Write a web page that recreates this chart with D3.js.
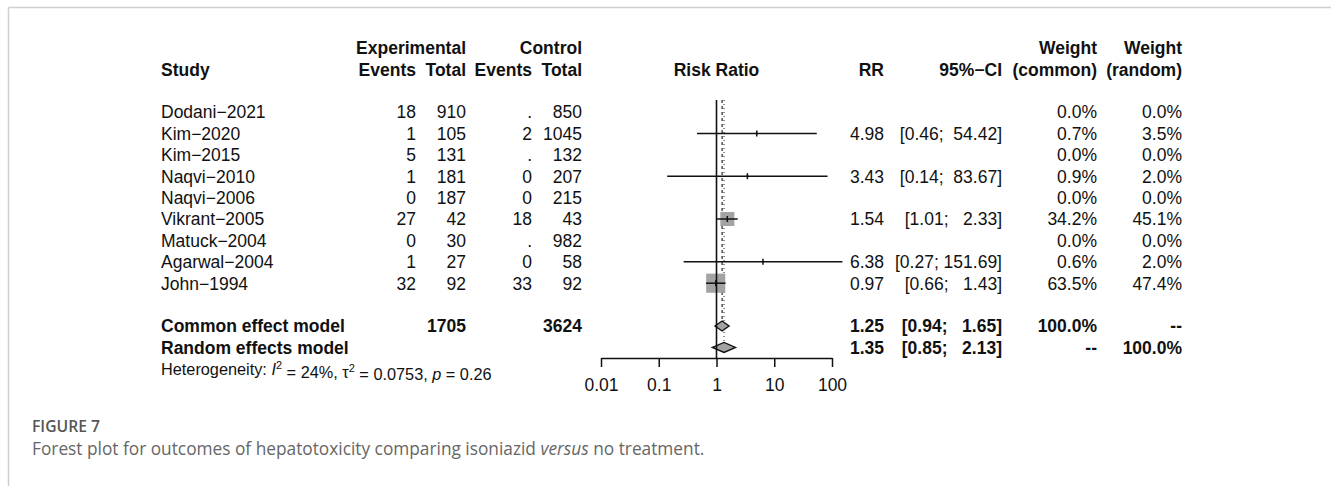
<!DOCTYPE html>
<html>
<head>
<meta charset="utf-8">
<script src="https://cdn.jsdelivr.net/npm/d3@7"></script>
<style>
  body { margin: 0; background: #fff; }
  svg text { white-space: pre; }
</style>
</head>
<body>
<div id="chart"></div>
<script>
// study table
const studies = ["Dodani\u22122021", "Kim\u22122020", "Kim\u22122015", "Naqvi\u22122010", "Naqvi\u22122006",
                 "Vikrant\u22122005", "Matuck\u22122004", "Agarwal\u22122004", "John\u22121994"];
const expEvents = ["18", "1", "5", "1", "0", "27", "0", "1", "32"];
const expTotal = ["910", "105", "131", "181", "187", "42", "30", "27", "92"];
const ctrlEvents = [".", "2", ".", "0", "0", "18", ".", "0", "33"];
const ctrlTotal = ["850", "1045", "132", "207", "215", "43", "982", "58", "92"];
const rr = [null, 4.98, null, 3.43, null, 1.54, null, 6.38, 0.97];
const lower = [null, 0.46, null, 0.14, null, 1.01, null, 0.27, 0.66];
const upper = [null, 54.42, null, 83.67, null, 2.33, null, 151.69, 1.43];
const weightCommon = [0.0, 0.7, 0.0, 0.9, 0.0, 34.2, 0.0, 0.6, 63.5];
const weightRandom = [0.0, 3.5, 0.0, 2.0, 0.0, 45.1, 0.0, 2.0, 47.4];

// pooled rows
const pooledLabels = ["Common effect model", "Random effects model"];
const pooledExpTotal = ["1705", ""];
const pooledCtrlTotal = ["3624", ""];
const pooledRR = [1.25, 1.35];
const pooledLower = [0.94, 0.85];
const pooledUpper = [1.65, 2.13];
const pooledWCommon = ["100.0%", "--"];
const pooledWRandom = ["--", "100.0%"];

const axisTicks = [0.01, 0.1, 1, 10, 100];

const W = 1331, H = 486;
const svg = d3.select("#chart").append("svg").attr("width", W).attr("height", H)
  .style("font-family", "'Liberation Sans', Arial, sans-serif");

// page frame
svg.append("line").attr("x1", 8.5).attr("x2", W).attr("y1", 7.5).attr("y2", 7.5)
  .attr("stroke", "#cfcfcf").attr("stroke-width", 1.5);
svg.append("line").attr("x1", 8.5).attr("x2", 8.5).attr("y1", 7.5).attr("y2", H)
  .attr("stroke", "#cfcfcf").attr("stroke-width", 1.5);

const FS = 17.5, FSB = 17.5;
const row = d3.scaleLinear().domain([0, 1]).range([112, 133.4]);
const x = d3.scaleLog().domain([0.01, 100]).range([601, 832]);

// column anchors
const col = {study: 161, ee: 416, et: 466, ce: 532, ct: 582, rr: 884, ci: 1002, wc: 1097, wr: 1182};

function txt(xp, yp, s, anchor, bold, size) {
  return svg.append("text").attr("x", xp).attr("y", yp).attr("dy", "0.36em")
    .attr("text-anchor", anchor || "start")
    .attr("font-size", size || (bold ? FSB : FS))
    .attr("font-weight", bold ? "bold" : "normal")
    .attr("fill", "#111").text(s);
}

const fmt = d3.format(".2f");
function ciText(lo, hi) {
  let u = fmt(hi);
  while (u.length < 6) u = " " + u;
  return "[" + fmt(lo) + "; " + u + "]";
}

// headers
const h1 = row(-3), h2 = row(-2);
txt(col.et, h1, "Experimental", "end", true);
txt(col.ct, h1, "Control", "end", true);
txt(col.wc, h1, "Weight", "end", true);
txt(col.wr, h1, "Weight", "end", true);
txt(col.study, h2, "Study", "start", true);
txt(col.ee, h2, "Events", "end", true);
txt(col.et, h2, "Total", "end", true);
txt(col.ce, h2, "Events", "end", true);
txt(col.ct, h2, "Total", "end", true);
txt(x(1), h2, "Risk Ratio", "middle", true);
txt(col.rr, h2, "RR", "end", true);
txt(col.ci, h2, "95%\u2212CI", "end", true);
txt(col.wc, h2, "(common)", "end", true);
txt(col.wr, h2, "(random)", "end", true);

// study rows
studies.forEach((s, i) => {
  const yp = row(i);
  txt(col.study, yp, s);
  txt(col.ee, yp, expEvents[i], "end");
  txt(col.et, yp, expTotal[i], "end");
  txt(col.ce, yp, ctrlEvents[i], "end");
  txt(col.ct, yp, ctrlTotal[i], "end");
  if (rr[i] !== null) {
    txt(col.rr, yp, fmt(rr[i]), "end");
    txt(col.ci, yp, ciText(lower[i], upper[i]), "end");
  }
  txt(col.wc, yp, weightCommon[i].toFixed(1) + "%", "end");
  txt(col.wr, yp, weightRandom[i].toFixed(1) + "%", "end");
});

// pooled rows
pooledLabels.forEach((s, j) => {
  const yp = row(10 + j);
  txt(col.study, yp, s, "start", true);
  txt(col.et, yp, pooledExpTotal[j], "end", true);
  txt(col.ct, yp, pooledCtrlTotal[j], "end", true);
  txt(col.rr, yp, fmt(pooledRR[j]), "end", true);
  txt(col.ci, yp, ciText(pooledLower[j], pooledUpper[j]), "end", true);
  txt(col.wc, yp, pooledWCommon[j], "end", true);
  txt(col.wr, yp, pooledWRandom[j], "end", true);
});

// heterogeneity line
const het = svg.append("text").attr("x", col.study).attr("y", row(12)).attr("dy", "0.36em")
  .attr("font-size", 16.3).attr("fill", "#111");
het.append("tspan").text("Heterogeneity: ");
het.append("tspan").attr("font-style", "italic").text("I");
het.append("tspan").attr("font-size", 11).attr("dy", "-0.55em").text("2");
het.append("tspan").attr("dy", "0.55em").text(" = 24%, \u03c4");
het.append("tspan").attr("font-size", 11).attr("dy", "-0.55em").text("2");
het.append("tspan").attr("dy", "0.55em").text(" = 0.0753, ");
het.append("tspan").attr("font-style", "italic").text("p");
het.append("tspan").text(" = 0.26");

// reference lines
const plotTop = 100, axisY = 358;
svg.append("line").attr("x1", x(pooledRR[0])).attr("x2", x(pooledRR[0]))
  .attr("y1", plotTop).attr("y2", row(10) - 5)
  .attr("stroke", "#222").attr("stroke-width", 1.2).attr("stroke-dasharray", "3,3");
svg.append("line").attr("x1", x(pooledRR[1])).attr("x2", x(pooledRR[1]))
  .attr("y1", plotTop).attr("y2", row(11) - 5)
  .attr("stroke", "#222").attr("stroke-width", 1).attr("stroke-dasharray", "1,3");

// squares
const plot = svg.append("g");
studies.forEach((s, i) => {
  if (rr[i] === null) return;
  const yp = row(i), side = 2.4 * Math.sqrt(weightCommon[i]);
  plot.append("rect").attr("x", x(rr[i]) - side / 2).attr("y", yp - side / 2)
    .attr("width", side).attr("height", side).attr("fill", "#a3a3a3");
});
svg.append("line").attr("x1", x(1)).attr("x2", x(1)).attr("y1", plotTop).attr("y2", axisY)
  .attr("stroke", "#111").attr("stroke-width", 1.6);
studies.forEach((s, i) => {
  if (rr[i] === null) return;
  const yp = row(i);
  plot.append("line").attr("x1", x(lower[i])).attr("x2", x(upper[i])).attr("y1", yp).attr("y2", yp)
    .attr("stroke", "#111").attr("stroke-width", 1.5);
  plot.append("line").attr("x1", x(rr[i])).attr("x2", x(rr[i])).attr("y1", yp - 3).attr("y2", yp + 3)
    .attr("stroke", "#111").attr("stroke-width", 1.5);
});

// diamonds
pooledRR.forEach((v, j) => {
  const yp = row(10 + j), hh = 5;
  const pts = [[x(pooledLower[j]), yp], [x(v), yp - hh], [x(pooledUpper[j]), yp], [x(v), yp + hh]];
  plot.append("polygon").attr("points", pts.map(p => p.join(",")).join(" "))
    .attr("fill", "#a3a3a3").attr("stroke", "#111").attr("stroke-width", 1.4);
});

// axis
const ax = svg.append("g").attr("transform", `translate(0,${axisY})`)
  .call(d3.axisBottom(x).tickValues(axisTicks).tickSize(9).tickSizeOuter(0)
    .tickFormat(d => d < 1 ? String(d) : d3.format("d")(d)));
ax.select(".domain").attr("stroke", "#111").attr("stroke-width", 1.5);
ax.selectAll(".tick line").attr("stroke", "#111").attr("stroke-width", 1.5);
ax.selectAll(".tick text").attr("font-size", FS).attr("font-family", "'Liberation Sans', Arial, sans-serif")
  .attr("fill", "#111").attr("y", 21);

// caption
svg.append("text").attr("x", 32).attr("y", 432).attr("font-family", "'Open Sans', sans-serif")
  .attr("font-size", 17).attr("font-weight", 600).attr("fill", "#555")
  .attr("textLength", 68).attr("lengthAdjust", "spacingAndGlyphs").text("FIGURE 7");
const cap = svg.append("text").attr("x", 32).attr("y", 455).attr("font-family", "'Open Sans', sans-serif")
  .attr("font-size", 17.3).attr("fill", "#666");
cap.append("tspan").text("Forest plot for outcomes of hepatotoxicity comparing isoniazid ");
cap.append("tspan").attr("font-style", "italic").text("versus");
cap.append("tspan").text(" no treatment.");
</script>
</body>
</html>
